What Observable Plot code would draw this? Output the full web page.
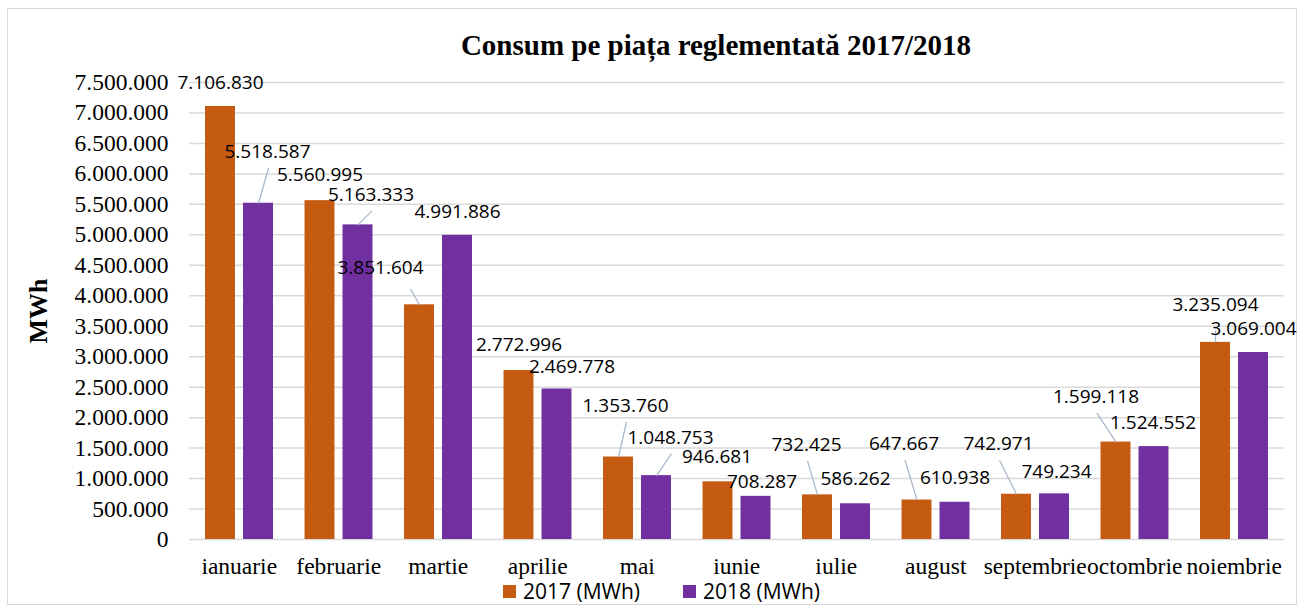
<!DOCTYPE html>
<html><head><meta charset="utf-8">
<script src="https://cdn.jsdelivr.net/npm/d3@7"></script>
<script src="https://cdn.jsdelivr.net/npm/@observablehq/plot@0.6"></script>
<style>
body{margin:0;background:#fff;width:1304px;height:610px;overflow:hidden;position:relative;font-family:"Liberation Serif",serif}
#frame{position:absolute;left:7px;top:8px;width:1290px;height:597px;border:1.5px solid #d9d9d9;box-sizing:border-box}
#chart{position:absolute;left:0;top:0}
#title{position:absolute;left:716px;top:28px;transform:translateX(-50%);white-space:nowrap;font-weight:bold;font-size:29px;line-height:34px;color:#000}
#ylabel{position:absolute;left:39px;top:311px;transform:translate(-50%,-50%) rotate(-90deg);font-weight:bold;font-size:26px;color:#000;white-space:nowrap}
#legend{position:absolute;left:503px;top:577px;display:flex;align-items:center;font-family:"Open Sans",sans-serif;font-size:21px;color:#000}
#legend .item{display:flex;align-items:center;margin-right:43px}
#legend .sw{width:13px;height:13px;margin-right:7px}
</style></head><body>
<div id="frame"></div>
<div id="chart"></div>
<div id="title">Consum pe piața reglementată 2017/2018</div>
<div id="ylabel">MWh</div>
<div id="legend"></div>
<script>
const months = ["ianuarie","februarie","martie","aprilie","mai","iunie","iulie","august","septembrie","octombrie","noiembrie"];
const v2017 = [7106830,5560995,3851604,2772996,1353760,946681,732425,647667,742971,1599118,3235094];
const v2018 = [5518587,5163333,4991886,2469778,1048753,708287,586262,610938,749234,1524552,3069004];
const seriesNames = ["2017 (MWh)","2018 (MWh)"];
const seriesColors = ["#C55A11","#7030A0"];
const yTicks = [0,500000,1000000,1500000,2000000,2500000,3000000,3500000,4000000,4500000,5000000,5500000,6000000,6500000,7000000,7500000];

// label placement (pixel offsets from bar top) and leader-line flags
const labelOff2017 = [[0,-24],[0,-26],[-39,-37],[0,-26],[7,-51],[-1,-25],[-11,-50],[-13,-56],[-18,-50],[-20,-45],[0,-37]];
const labelOff2018 = [[9,-51],[13,-30],[0,-23],[15,-22],[14,-38],[6,-14],[0,-25],[0,-24],[2,-22],[-1,-24],[0,-24]];
const leader2017 = [0,0,1,0,1,0,1,1,1,1,1];
const leader2018 = [1,1,0,0,1,0,0,0,0,0,0];
const leaderEnd2017 = {2:[30,21],10:[0,25]};

const W = 1304, H = 610, X0 = 189, X1 = 1283.5, Y0 = 539, Y1 = 82;
const pxX = 11 / (X1 - X0), pxY = 7500000 / (Y0 - Y1);
const fmt = d3.formatLocale({decimal: ",", thousands: ".", grouping: [3], currency: ["", ""]}).format(",d");

const bars = [];
[v2017, v2018].forEach((vals, s) => {
  vals.forEach((v, i) => {
    const a = s === 0 ? i - 0.339 : i + 0.043;
    const b = s === 0 ? i - 0.038 : i + 0.344;
    const c = (a + b) / 2;
    const off = (s === 0 ? labelOff2017 : labelOff2018)[i];
    const lx = c + off[0] * pxX, ly = v - off[1] * pxY;
    const lead = (s === 0 ? leader2017 : leader2018)[i];
    const e = (s === 0 && leaderEnd2017[i]) || [1, 16];
    bars.push({s, i, v, a, b, c, lx, ly, lead, ex: lx + e[0] * pxX, ey: ly - e[1] * pxY, color: seriesColors[s]});
  });
});

const chart = Plot.plot({
  width: W, height: H,
  marginLeft: X0, marginRight: W - X1, marginTop: Y1, marginBottom: H - Y0,
  style: {fontFamily: "Liberation Serif", fontSize: "23.5px", background: "transparent", overflow: "visible", color: "#000"},
  x: {domain: [-0.5, 10.5], ticks: d3.range(months.length), tickFormat: i => months[i], tickSize: 0, tickPadding: 18, label: null},
  y: {domain: [0, 7500000], ticks: yTicks, tickFormat: fmt, tickSize: 0, tickPadding: 21, label: null},
  marks: [
    Plot.ruleY(yTicks, {stroke: "#d9d9d9", strokeWidth: 1.5}),
    Plot.rectY(bars, {x1: "a", x2: "b", y: "v", fill: "color"}),
    Plot.link(bars.filter(d => d.lead), {x1: "c", y1: "v", x2: "ex", y2: "ey", stroke: "#a9b9cc", strokeWidth: 1.3}),
    Plot.text(bars, {x: "lx", y: "ly", text: d => fmt(d.v), fontFamily: "Open Sans", fontSize: 19, fill: "#000"})
  ]
});
document.getElementById("chart").appendChild(chart);

const legend = document.getElementById("legend");
seriesNames.forEach((n, k) => {
  const it = document.createElement("div"); it.className = "item";
  const sw = document.createElement("div"); sw.className = "sw"; sw.style.background = seriesColors[k];
  const tx = document.createElement("span"); tx.textContent = n;
  it.appendChild(sw); it.appendChild(tx); legend.appendChild(it);
});
</script>
</body></html>
